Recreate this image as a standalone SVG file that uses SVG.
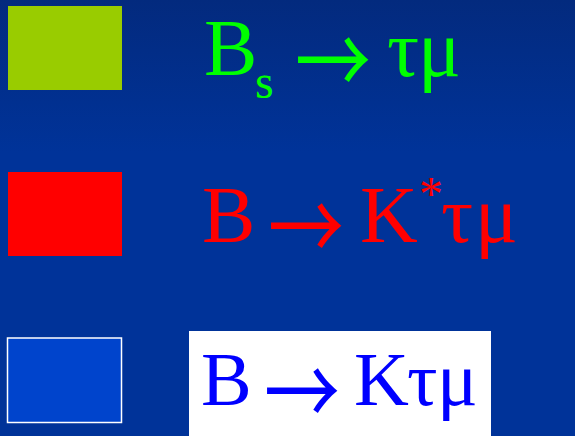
<svg xmlns="http://www.w3.org/2000/svg" width="575" height="436" viewBox="0 0 575 436">
<defs>
<linearGradient id="bg" x1="0" y1="0" x2="0" y2="1">
<stop offset="0" stop-color="#032a7e"/>
<stop offset="0.35" stop-color="#003399"/>
<stop offset="1" stop-color="#003399"/>
</linearGradient>
</defs>
<style>
.t{font-family:"Liberation Serif","Times New Roman",serif;font-size:80px}
.sm{font-size:48px}
.ar{font-family:"Noto Sans CJK JP",sans-serif;font-size:76px;dominant-baseline:central}
.g{fill:#00ff00}.r{fill:#ff0000}.b{fill:#0000ff}
</style>
<rect x="0" y="0" width="575" height="436" fill="url(#bg)"/>
<g id="legend-bs">
<rect x="8" y="6" width="114" height="84" fill="#99cc00"/>
<text class="t g" y="75"><tspan x="204">B</tspan><tspan class="sm" x="255" y="98">s</tspan><tspan x="387" y="76">τ</tspan><tspan x="418">μ</tspan></text>
<text class="ar g" x="0" y="0" transform="translate(295,55) scale(1,1.25)">→</text>
</g>
<g id="legend-bkstar">
<rect x="8" y="172" width="114" height="84" fill="#ff0000"/>
<text class="t r" y="242"><tspan x="202">B</tspan><tspan x="360">K</tspan><tspan class="sm" x="419" y="210">*</tspan><tspan x="441" y="242">τ</tspan><tspan x="475">μ</tspan></text>
<text class="ar r" x="0" y="0" transform="translate(268,221) scale(1,1.25)">→</text>
</g>
<g id="legend-bk">
<rect x="7.5" y="338" width="114" height="84.5" fill="#0044cc" stroke="#ffffff" stroke-width="1.5"/>
<rect x="189" y="331" width="302" height="105" fill="#ffffff"/>
<text class="t b" y="405" style="font-size:76px"><tspan x="201">B</tspan><tspan x="354">K</tspan><tspan x="407">τ</tspan><tspan x="437">μ</tspan></text>
<text class="ar b" x="0" y="0" transform="translate(264,386) scale(1,1.25)">→</text>
</g>
<g id="connectors"/>
</svg>
